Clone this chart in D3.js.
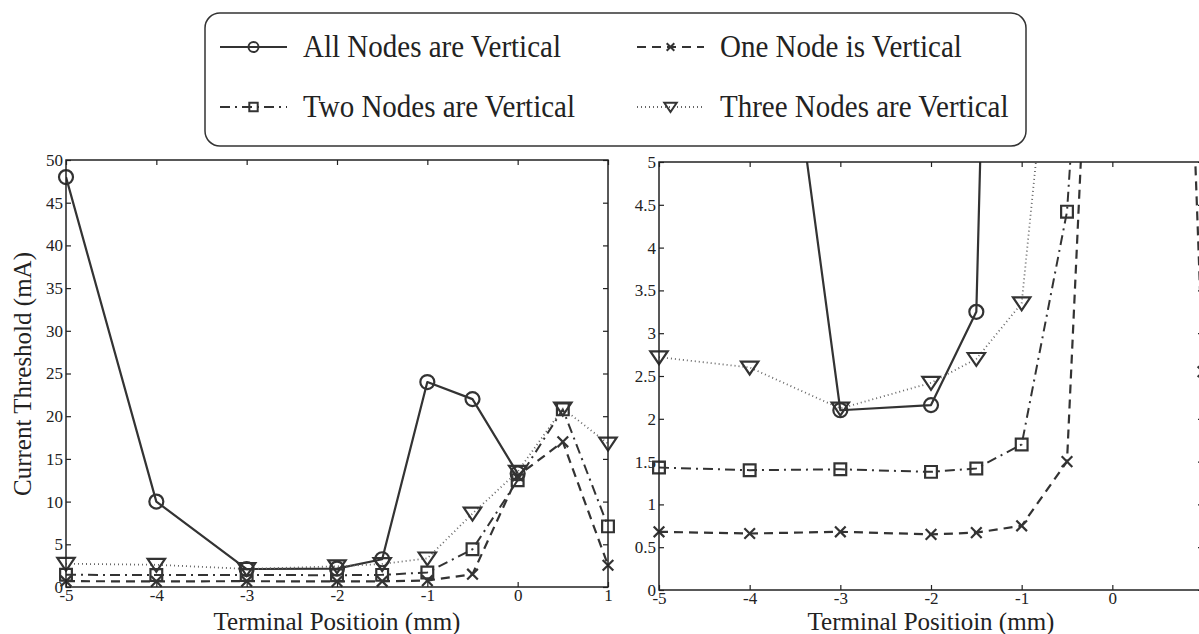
<!DOCTYPE html>
<html>
<head>
<meta charset="utf-8">
<script src="https://cdn.jsdelivr.net/npm/d3@7"></script>
<style>
  html, body { margin: 0; padding: 0; background: #fff; }
  svg { display: block; }
</style>
</head>
<body>
<svg id="chart" width="1199" height="634"></svg>
<script>
// Terminal positions (mm) shared by every series
const positions = [-5, -4, -3, -2, -1.5, -1, -0.5, 0, 0.5, 1];

// Current threshold (mA) per configuration
const allNodes   = [48, 10, 2.1, 2.16, 3.25, 24, 22, 13.3];
const oneNode    = [0.68, 0.66, 0.68, 0.65, 0.67, 0.75, 1.5, 13.0, 17.0, 2.55];
const twoNodes   = [1.43, 1.40, 1.41, 1.38, 1.42, 1.70, 4.42, 12.5, 20.8, 7.1];
const threeNodes = [2.72, 2.60, 2.12, 2.42, 2.70, 3.35, 8.6, 13.5, 20.9, 16.8];

const seriesNames = [
  "All Nodes are Vertical",
  "One Node is Vertical",
  "Two Nodes are Vertical",
  "Three Nodes are Vertical"
];

const xTicks = [-5, -4, -3, -2, -1, 0, 1];
const yTicksLeft = [0, 5, 10, 15, 20, 25, 30, 35, 40, 45, 50];
const yTicksRight = [0, 0.5, 1, 1.5, 2, 2.5, 3, 3.5, 4, 4.5, 5];

const xLabel = "Terminal Positioin (mm)";
const yLabel = "Current Threshold (mA)";

const WIDTH = 1199;
const INK = "#333";
const FONT = "'Liberation Serif', 'Times New Roman', serif";

const series = [
  { name: seriesNames[0], values: allNodes,   marker: "circle",   dash: null,       color: INK,    width: 2.2 },
  { name: seriesNames[1], values: oneNode,    marker: "x",        dash: "9,6",      color: INK,    width: 2.2 },
  { name: seriesNames[2], values: twoNodes,   marker: "square",   dash: "10,5,2,5", color: INK,    width: 2.0 },
  { name: seriesNames[3], values: threeNodes, marker: "triangle", dash: "1,3",      color: "#666", width: 1.8 }
];

const svg = d3.select("#chart");

// Marker path generators, centred on (0,0)
function markerPath(type, s) {
  const p = d3.path();
  if (type === "circle") {
    p.arc(0, 0, s * 0.5, 0, Math.PI * 2);
  } else if (type === "square") {
    const h = s * 0.42;
    p.rect(-h, -h, 2 * h, 2 * h);
  } else if (type === "triangle") {
    const w = s * 0.62, t = s * 0.42, b = s * 0.5;
    p.moveTo(-w, -t); p.lineTo(w, -t); p.lineTo(0, b); p.closePath();
  } else if (type === "x") {
    const h = s * 0.38;
    p.moveTo(-h, -h); p.lineTo(h, h);
    p.moveTo(-h, h); p.lineTo(h, -h);
  }
  return p.toString();
}

function drawPanel(opts) {
  const { x, y, yTicks, id } = opts;
  const [x0, x1] = x.range();
  const [y0, y1] = y.range(); // y0 bottom, y1 top
  const g = svg.append("g");

  svg.append("clipPath").attr("id", id)
    .append("rect")
    .attr("x", x0).attr("y", y1)
    .attr("width", x1 - x0).attr("height", y0 - y1);

  const styleAxis = sel => {
    sel.select(".domain").remove();
    sel.selectAll(".tick line").attr("stroke", "#222").attr("stroke-width", 1.2);
    sel.selectAll(".tick text")
      .attr("fill", "#222")
      .style("font-family", FONT)
      .style("font-size", "17px");
  };

  // bottom axis with labels (labels past the page edge are left blank)
  g.append("g").attr("transform", `translate(0,${y0})`)
    .call(d3.axisBottom(x).tickValues(xTicks)
      .tickFormat(d => x(d) > WIDTH - 4 ? "" : String(d))
      .tickSizeInner(-5).tickSizeOuter(0).tickPadding(2))
    .call(styleAxis);
  // top axis, ticks only
  g.append("g").attr("transform", `translate(0,${y1})`)
    .call(d3.axisTop(x).tickValues(xTicks).tickFormat("")
      .tickSizeInner(-5).tickSizeOuter(0))
    .call(styleAxis);
  // left axis with labels
  g.append("g").attr("transform", `translate(${x0},0)`)
    .call(d3.axisLeft(y).tickValues(yTicks).tickFormat(d => String(d))
      .tickSizeInner(-5).tickSizeOuter(0).tickPadding(3))
    .call(styleAxis);
  // right axis, ticks only
  g.append("g").attr("transform", `translate(${x1},0)`)
    .call(d3.axisRight(y).tickValues(yTicks).tickFormat("")
      .tickSizeInner(-5).tickSizeOuter(0))
    .call(styleAxis);

  // data lines, clipped to the plotting box
  const plot = g.append("g").attr("clip-path", `url(#${id})`);
  series.forEach(s => {
    const pts = s.values.map((v, i) => [positions[i], v]);
    plot.append("path")
      .datum(pts)
      .attr("fill", "none")
      .attr("stroke", s.color)
      .attr("stroke-width", s.width)
      .attr("stroke-dasharray", s.dash)
      .attr("stroke-linejoin", "round")
      .attr("d", d3.line().x(d => x(d[0])).y(d => y(d[1])));
  });

  // markers for points inside the axis limits
  const [ylo, yhi] = y.domain();
  series.forEach(s => {
    const pts = s.values.map((v, i) => [positions[i], v])
      .filter(d => d[1] >= ylo && d[1] <= yhi);
    g.append("g").selectAll("path")
      .data(pts)
      .join("path")
      .attr("transform", d => `translate(${x(d[0])},${y(d[1])})`)
      .attr("d", markerPath(s.marker, 14))
      .attr("fill", "none")
      .attr("stroke", INK)
      .attr("stroke-width", 2.2);
  });

  // plotting box
  g.append("rect")
    .attr("x", x0).attr("y", y1)
    .attr("width", x1 - x0).attr("height", y0 - y1)
    .attr("fill", "none").attr("stroke", "#222").attr("stroke-width", 1.5);

  // x-axis title
  g.append("text")
    .attr("x", (x0 + x1) / 2).attr("y", 630)
    .attr("text-anchor", "middle")
    .attr("fill", "#222")
    .style("font-family", FONT).style("font-size", "25px")
    .text(xLabel);

  return g;
}

// left panel: full range
drawPanel({
  x: d3.scaleLinear().domain([-5, 1]).range([66, 608]),
  y: d3.scaleLinear().domain([0, 50]).range([587, 160]),
  yTicks: yTicksLeft,
  id: "clipLeft"
});

// right panel: zoom on the low thresholds
drawPanel({
  x: d3.scaleLinear().domain([-5, 1]).range([659, 1203]),
  y: d3.scaleLinear().domain([0, 5]).range([590, 162]),
  yTicks: yTicksRight,
  id: "clipRight"
});

// y-axis title
svg.append("text")
  .attr("transform", "translate(31,374) rotate(-90)")
  .attr("text-anchor", "middle")
  .attr("fill", "#222")
  .style("font-family", FONT).style("font-size", "25px")
  .text(yLabel);

// legend
const legend = svg.append("g");
legend.append("rect")
  .attr("x", 205).attr("y", 13).attr("width", 821).attr("height", 133)
  .attr("rx", 15).attr("ry", 15)
  .attr("fill", "#fff").attr("stroke", "#333").attr("stroke-width", 1.5);

const legendCols = [220, 637];
const legendRows = [47, 107];
series.forEach((s, k) => {
  const lx = legendCols[k % 2];
  const ly = legendRows[Math.floor(k / 2)];
  const item = legend.append("g");
  item.append("line")
    .attr("x1", lx).attr("x2", lx + 67).attr("y1", ly).attr("y2", ly)
    .attr("stroke", s.color)
    .attr("stroke-width", s.width)
    .attr("stroke-dasharray", s.dash);
  item.append("path")
    .attr("transform", `translate(${lx + 33.5},${ly})`)
    .attr("d", markerPath(s.marker, 10))
    .attr("fill", "none").attr("stroke", INK).attr("stroke-width", 2);
  const t = item.append("text")
    .attr("x", lx + 83).attr("y", ly + 10)
    .attr("fill", "#222")
    .style("font-family", FONT).style("font-size", "29px")
    .text(s.name);
  // tall, slightly condensed legend lettering
  const w = t.node().getComputedTextLength();
  t.style("font-size", "32px")
    .attr("textLength", w)
    .attr("lengthAdjust", "spacingAndGlyphs");
});
</script>
</body>
</html>
